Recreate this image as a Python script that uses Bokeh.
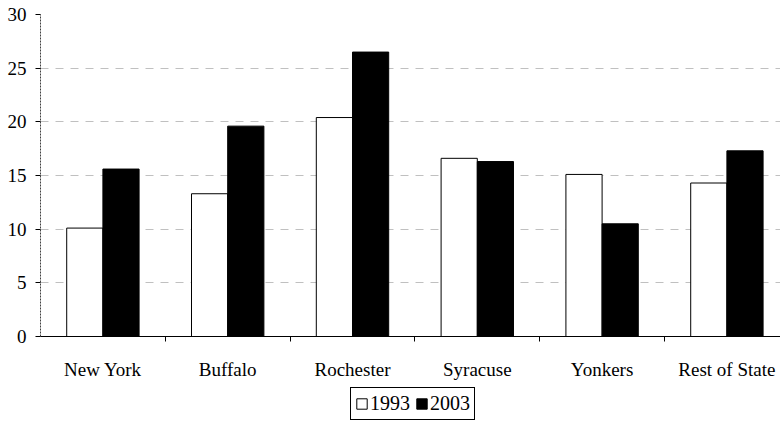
import numpy as np
from bokeh.plotting import figure
from bokeh.layouts import column
from bokeh.models import (Range1d, FixedTicker, Grid, Legend, LegendItem, ColumnDataSource)
from bokeh.embed import file_html
from bokeh.resources import INLINE

categories = ["New York", "Buffalo", "Rochester", "Syracuse", "Yonkers", "Rest of State"]
v1993 = [10.1, 13.3, 20.4, 16.6, 15.1, 14.3]
v2003 = [15.6, 19.6, 26.5, 16.3, 10.5, 17.3]
series_names = ["1993", "2003"]
y_ticks = [0, 5, 10, 15, 20, 25, 30]

FONT = "Liberation Serif"
n = len(categories)
centers = np.arange(n) + 0.5
bw = 0.29

p = figure(width=780, height=382, output_backend="svg", toolbar_location=None,
           x_range=Range1d(0, 740 / 124.8), y_range=Range1d(0, 30),
           min_border_left=40, min_border_right=0, min_border_top=14, min_border_bottom=42)
p.outline_line_color = None
p.background_fill_color = "white"
p.border_fill_color = "white"

src = ColumnDataSource(dict(x1=centers - bw / 2, x2=centers + bw / 2, a=v1993, b=v2003))
r1 = p.vbar(x="x1", width=bw, top="a", bottom=0, source=src, fill_color="white",
            line_color="black", line_width=1)
r2 = p.vbar(x="x2", width=bw, top="b", bottom=0, source=src, fill_color="black",
            line_color="black", line_width=1)

# grids
p.xgrid.visible = False
p.ygrid.ticker = FixedTicker(ticks=y_ticks[1:-1])
p.ygrid.grid_line_color = "#c0c0c0"
p.ygrid.grid_line_dash = "8 7"
p.ygrid.level = "underlay"
top_grid = Grid(dimension=1, ticker=FixedTicker(ticks=[30]), grid_line_color="#808080",
                grid_line_dash="3 3", grid_line_width=1.5)
p.add_layout(top_grid)

# y axis
ya = p.yaxis[0]
ya.ticker = FixedTicker(ticks=y_ticks)
ya.axis_line_color = "#404040"
ya.axis_line_dash = "2 1"
ya.major_tick_out = 5
ya.major_tick_in = 0
ya.minor_tick_line_color = None
ya.major_label_standoff = 9
ya.major_label_text_font = FONT
ya.major_label_text_font_size = "19px"
ya.major_label_text_color = "black"

# x axis
xa = p.xaxis[0]
xa.ticker = FixedTicker(ticks=list(centers), minor_ticks=list(range(1, n)))
xa.major_label_overrides = {float(c): lab for c, lab in zip(centers, categories)}
xa.major_tick_out = 0
xa.major_tick_in = 0
xa.minor_tick_out = 5
xa.minor_tick_in = 0
xa.minor_tick_line_color = "black"
xa.axis_line_color = "black"
xa.major_label_standoff = 17
xa.major_label_text_font = FONT
xa.major_label_text_font_size = "19px"
xa.major_label_text_color = "black"

# legend strip below the chart (hidden renderers only provide the swatches)
lf = figure(width=780, height=39, output_backend="svg", toolbar_location=None,
            x_range=Range1d(0, 1), y_range=Range1d(0, 1),
            x_axis_type=None, y_axis_type=None,
            min_border_left=0, min_border_right=0, min_border_top=0, min_border_bottom=0)
lf.outline_line_color = None
lf.xgrid.visible = False
lf.ygrid.visible = False
g1 = lf.vbar(x="x1", top="a", width=bw, source=src, fill_color="white", line_color="black",
             visible=False)
g2 = lf.vbar(x="x2", top="b", width=bw, source=src, fill_color="black", line_color="black",
             visible=False)
legend = Legend(items=[LegendItem(label=series_names[0], renderers=[g1]),
                       LegendItem(label=series_names[1], renderers=[g2])],
                orientation="horizontal", location=(310, 1),
                border_line_color="black", border_line_width=1, border_line_alpha=1,
                background_fill_color="white", background_fill_alpha=1,
                inactive_fill_alpha=0,
                label_text_font=FONT, label_text_font_size="20px", label_text_color="black",
                glyph_width=13, glyph_height=13, label_standoff=2, spacing=5,
                padding=4, margin=0, label_height=22)
lf.add_layout(legend, "center")

open("out.html", "w").write(file_html(column(p, lf, spacing=0), INLINE))
